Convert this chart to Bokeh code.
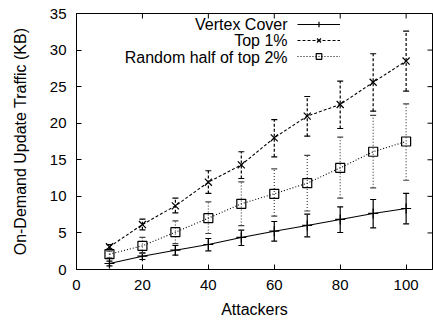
import math
from bokeh.plotting import figure
from bokeh.models import ColumnDataSource, FixedTicker, Legend, LegendItem, Range1d, Label
from bokeh.core.properties import value
from bokeh.embed import file_html
from bokeh.resources import INLINE

# ---- data ----
attackers = [10, 20, 30, 40, 50, 60, 70, 80, 90, 100]

vc_mean = [0.82, 1.82, 2.64, 3.42, 4.38, 5.24, 6.02, 6.84, 7.66, 8.34]
vc_low = [0.50, 1.37, 1.96, 2.55, 3.28, 3.87, 4.47, 5.06, 5.70, 6.24]
vc_high = [1.14, 2.28, 3.28, 4.24, 5.38, 6.56, 7.57, 8.57, 9.57, 10.40]

top1_mean = [3.10, 6.15, 8.70, 11.94, 14.30, 18.00, 20.97, 22.56, 25.60, 28.50]
top1_low = [2.80, 5.42, 7.75, 10.40, 12.44, 15.40, 18.23, 19.28, 21.65, 24.40]
top1_high = [3.40, 6.88, 9.75, 13.50, 16.10, 20.50, 23.65, 25.75, 29.50, 32.60]

rand_mean = [2.10, 3.24, 5.10, 7.02, 8.98, 10.35, 11.80, 13.90, 16.10, 17.50]
rand_low = [1.60, 2.20, 3.55, 4.92, 6.00, 7.30, 8.00, 9.75, 11.17, 12.20]
rand_high = [2.50, 4.40, 6.65, 9.25, 11.99, 13.76, 15.60, 18.10, 21.06, 22.65]

series_names = ["Vertex Cover", "Top 1%", "Random half of top 2%"]
x_ticks = [0, 20, 40, 60, 80, 100]
y_ticks = [0, 5, 10, 15, 20, 25, 30, 35]
X_MAX = 108
Y_MAX = 35

FONT = "Liberation Sans"

p = figure(width=433, height=322, output_backend="svg", toolbar_location=None,
           x_range=Range1d(0, X_MAX), y_range=Range1d(0, Y_MAX),
           min_border_left=76, min_border_right=1, min_border_top=13, min_border_bottom=53)
p.background_fill_color = "white"
p.border_fill_color = "white"
p.outline_line_color = "black"
p.grid.visible = False

for ax, ticks in ((p.xaxis[0], x_ticks), (p.yaxis[0], y_ticks)):
    ax.ticker = FixedTicker(ticks=ticks)
    ax.major_tick_in = 5
    ax.major_tick_out = 0
    ax.minor_tick_line_color = None
    ax.major_label_text_font = FONT
    ax.major_label_text_font_size = "15px"
    ax.major_label_text_color = "black"
    ax.axis_label_text_font = FONT
    ax.axis_label_text_font_size = "16px"
    ax.axis_label_text_font_style = "normal"
    ax.axis_label_text_color = "black"
    ax.axis_line_color = "black"
    ax.major_tick_line_color = "black"

p.xaxis.axis_label = "Attackers"
p.yaxis.axis_label = "On-Demand Update Traffic (KB)"
p.xaxis.major_label_standoff = 10
p.xaxis.axis_label_standoff = 8
p.yaxis.major_label_standoff = 10
p.yaxis.axis_label_standoff = 18

# mirrored inward ticks on the top and right edges (clipped half-dashes)
p.scatter(x=x_ticks, y=[Y_MAX] * len(x_ticks), marker="dash", angle=math.pi / 2,
          size=10, line_color="black", line_width=1)
p.scatter(x=[X_MAX] * len(y_ticks), y=y_ticks, marker="dash", size=10,
          line_color="black", line_width=1)

styles = [
    dict(mean=vc_mean, low=vc_low, high=vc_high, dash="solid", marker="cross", size=10,
         ecolor="black"),
    dict(mean=top1_mean, low=top1_low, high=top1_high, dash="3 2", marker="x", size=10,
         ecolor="black"),
    dict(mean=rand_mean, low=rand_low, high=rand_high, dash="1 2", marker="square", size=9,
         ecolor="#444444"),
]

legend_items = []
for name, st in zip(series_names, styles):
    src = ColumnDataSource(dict(x=attackers, y=st["mean"], lo=st["low"], hi=st["high"]))
    p.segment(x0="x", y0="lo", x1="x", y1="hi", source=src, line_color=st["ecolor"],
              line_width=1.2, line_dash=st["dash"])
    p.scatter(x="x", y="lo", source=src, marker="dash", size=6, line_color=st["ecolor"],
              line_width=1.2)
    p.scatter(x="x", y="hi", source=src, marker="dash", size=6, line_color=st["ecolor"],
              line_width=1.2)
    ln = p.line(x="x", y="y", source=src, line_color="black", line_width=1.1,
                line_dash=st["dash"])
    mk = p.scatter(x="x", y="y", source=src, marker=st["marker"], size=st["size"],
                   line_color="black", fill_color=None, line_width=1.2)
    legend_items.append(LegendItem(label=value(""), renderers=[ln, mk]))

# glyph-only legend (samples), texts placed to their left, right-aligned
legend = Legend(items=legend_items, location=(221, 206), glyph_width=43, glyph_height=14,
                spacing=2, label_width=0, label_height=0, label_standoff=0,
                label_text_font_size="1px", padding=0, margin=0,
                border_line_color=None, background_fill_alpha=0)
p.add_layout(legend, "center")

for i, name in enumerate(series_names):
    p.add_layout(Label(x=211, y=245.3 - 16.4 * i, x_units="screen", y_units="screen",
                       text=name, text_align="right", text_baseline="middle",
                       text_font=FONT, text_font_size="16px", text_color="black"))

open("out.html", "w").write(file_html(p, INLINE))
